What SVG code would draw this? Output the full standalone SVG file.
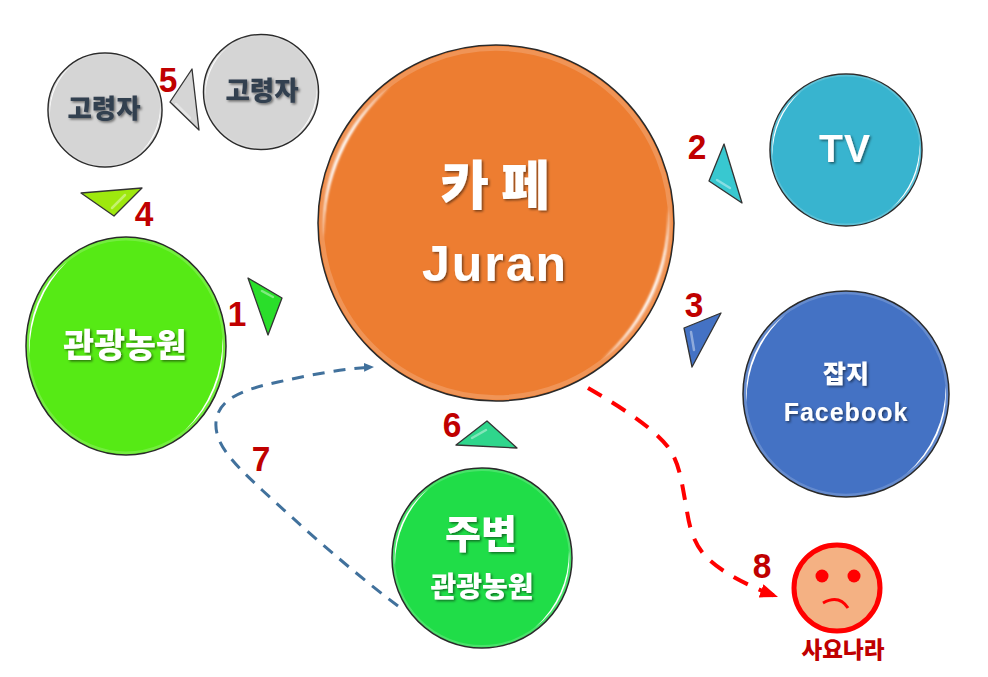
<svg xmlns="http://www.w3.org/2000/svg" width="988" height="677" viewBox="0 0 988 677">
<style>
.kr{font-family:"Noto Sans CJK KR","Liberation Sans",sans-serif;font-weight:900;text-anchor:middle}
.en{font-family:"Liberation Sans","Noto Sans CJK KR",sans-serif;font-weight:700;text-anchor:middle}
.w{fill:#fff;filter:url(#ts)}
.g{fill:#323f4f;filter:url(#ts)}
.n{font-family:"Liberation Sans",sans-serif;font-weight:700;font-size:36px;fill:#c00000;text-anchor:middle}
.o{stroke:#2a2a2a;stroke-width:1.5}
.t{stroke:#333;stroke-width:1.3;stroke-linejoin:round}
.tg{fill:none;stroke:#fff;stroke-opacity:.4;stroke-width:2.500;stroke-linecap:round}
</style>
<defs>
<filter id="ts" x="-20%" y="-20%" width="150%" height="150%"><feDropShadow dx="1.500" dy="1.500" stdDeviation="1" flood-color="#000" flood-opacity=".5"/></filter>
<filter id="soft" x="-10%" y="-10%" width="120%" height="120%"><feGaussianBlur stdDeviation=".5"/></filter>
<g id="gloss">
<circle r="98" fill="none" stroke="#fff" stroke-opacity=".18" stroke-width="2.500"/>
<g fill="#fff" filter="url(#soft)">
<path d="M-96.600 8.500A97 97 0 0 1-59-77A112 112 0 0 0-96.600 8.500z"/>
<path d="M96.600-8.500A97 97 0 0 1 59 77A112 112 0 0 0 96.600-8.500z"/>
</g>
</g>
<marker id="ab" markerUnits="userSpaceOnUse" markerWidth="13" markerHeight="11" refX="10" refY="4.500" orient="auto"><path d="M0 0L10 4.500L0 9z" fill="#41719c"/></marker>
<marker id="ar" markerUnits="userSpaceOnUse" markerWidth="22" markerHeight="16" refX="18" refY="7" orient="auto"><path d="M0 0L18 7L0 14z" fill="#f00"/></marker>
</defs>
<rect width="988" height="677" fill="#fff"/>
<g id="connectors" fill="none">
<path d="M398 606C350 570 300 525 262 490C238 467 214 446 216 422C218 400 240 390 278 382C310 375 345 368 374 367" stroke="#41719c" stroke-width="3" stroke-dasharray="12 9" marker-end="url(#ab)"/>
<path d="M588 388C610 401 650 424 668 447C680 463 682 485 685 500C688 515 689 535 702 552C715 569 745 585 778 597" stroke="#f00" stroke-width="4" stroke-dasharray="16 12" marker-end="url(#ar)"/>
</g>
<g id="node-elder-left">
<circle class="o" cx="105" cy="110" r="57" fill="#d5d5d5"/>
<use href="#gloss" transform="translate(105 110) scale(.57)"/>
<text class="kr g" x="104" y="118" font-size="26.500">고령자</text>
</g>
<g id="node-elder-right">
<circle class="o" cx="261" cy="92" r="57.500" fill="#d5d5d5"/>
<use href="#gloss" transform="translate(261 92) scale(.575)"/>
<text class="kr g" x="262" y="100" font-size="26.500">고령자</text>
</g>
<g id="node-cafe">
<circle class="o" cx="496" cy="223" r="178" fill="#ed7d31"/>
<use href="#gloss" transform="translate(496 223) scale(1.78)"/>
<text class="kr w" x="495" y="205" font-size="53" xml:space="preserve">카 페</text>
<text class="en w" x="495" y="281" font-size="50" letter-spacing="2">Juran</text>
</g>
<g id="node-tv">
<circle class="o" cx="846" cy="150" r="76" fill="#38b4cf"/>
<use href="#gloss" transform="translate(846 150) scale(.76)"/>
<text class="en w" x="845" y="162" font-size="39" letter-spacing="1">TV</text>
</g>
<g id="node-magazine">
<circle class="o" cx="846" cy="394" r="103" fill="#4472c4"/>
<use href="#gloss" transform="translate(846 394) scale(1.03)"/>
<text class="kr w" x="846" y="383" font-size="25">잡지</text>
<text class="en w" x="846" y="421" font-size="25" letter-spacing="1">Facebook</text>
</g>
<g id="node-farm">
<ellipse class="o" cx="126" cy="346" rx="100" ry="109" fill="#56ea15"/>
<use href="#gloss" transform="translate(126 346) scale(1 1.09)"/>
<text class="kr w" x="125" y="357" font-size="33.500">관광농원</text>
</g>
<g id="node-nearby">
<circle class="o" cx="482" cy="558" r="90" fill="#20dd48"/>
<use href="#gloss" transform="translate(482 558) scale(.9)"/>
<text class="kr w" x="481" y="548" font-size="39">주변</text>
<text class="kr w" x="482" y="597" font-size="28">관광농원</text>
</g>
<g id="node-sad">
<circle cx="837" cy="588" r="43" fill="#f4b183" stroke="#f00" stroke-width="5"/>
<circle cx="822" cy="576" r="6.500" fill="#f00"/>
<circle cx="854" cy="576" r="6.500" fill="#f00"/>
<path d="M823 603Q839 594 848 608" fill="none" stroke="#f00" stroke-width="3"/>
<text class="kr" x="843" y="658" font-size="22.500" fill="#c00000">사요나라</text>
</g>
<g id="step-1"><path class="t" d="M248 278L282 298L268 335z" fill="#2ade2a"/><path class="tg" d="M262 291L273 297"/><text class="n" transform="translate(237 326) scale(.93 1)">1</text></g>
<g id="step-2"><path class="t" d="M724 144L709 181L742 203z" fill="#38c8d0"/><path class="tg" d="M717 180L730 188"/><text class="n" transform="translate(697 159) scale(.93 1)">2</text></g>
<g id="step-3"><path class="t" d="M721 313L684 328L692 367z" fill="#4472c4"/><path class="tg" d="M691 332L694 350"/><text class="n" transform="translate(694 317) scale(.93 1)">3</text></g>
<g id="step-4"><path class="t" d="M81 193L142 188L114 216z" fill="#9ee80e"/><path class="tg" d="M112 208L125 195"/><text class="n" transform="translate(144 226) scale(.93 1)">4</text></g>
<g id="step-5"><path class="t" d="M192 69L170 102L199 130z" fill="#d5d5d5"/><path class="tg" d="M176 104L190 118"/><text class="n" transform="translate(168 92) scale(.93 1)">5</text></g>
<g id="step-6"><path class="t" d="M487 421L456 445L517 448z" fill="#2fd68c"/><path class="tg" d="M472 438L486 430"/><text class="n" transform="translate(452 437) scale(.93 1)">6</text></g>
<text class="n" transform="translate(261 471) scale(.93 1)">7</text>
<text class="n" transform="translate(762 578) scale(.93 1)">8</text>
</svg>
